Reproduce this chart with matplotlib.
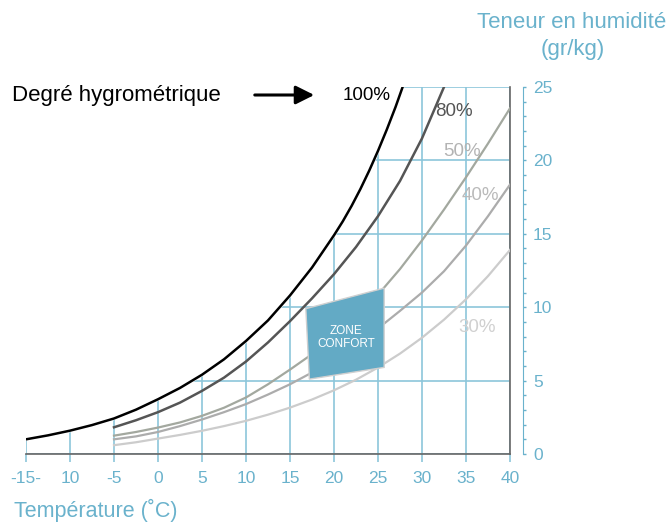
import matplotlib
matplotlib.use("Agg")
import matplotlib.pyplot as plt
from matplotlib.ticker import MultipleLocator

plt.rcParams['font.family'] = ['Liberation Sans', 'DejaVu Sans']

# temperature (C) and moisture content (g/kg)
T_sat = [-15, -12.5, -10, -7.5, -5, -2.5, 0, 2.5, 5, 7.5, 10, 12.5, 15, 17.5, 20,
         21, 22, 23, 24, 25, 26, 27, 27.8]
rh100 = [1.0, 1.27, 1.59, 1.97, 2.42, 3.02, 3.73, 4.5, 5.4, 6.45, 7.7, 9.1, 10.8, 12.7, 14.9,
         15.85, 16.9, 18.05, 19.3, 20.65, 22.1, 23.65, 25.0]

T_rh = [-5, -2.5, 0, 2.5, 5, 7.5, 10, 12.5, 15, 17.5, 20, 22.5, 25, 27.5, 30, 32.5, 35, 37.5, 40]
rh80 = [1.82, 2.3, 2.85, 3.5, 4.3, 5.2, 6.3, 7.6, 9.05, 10.6, 12.25, 14.1, 16.2, 18.6, 21.5, 25.0]
rh50 = [1.25, 1.5, 1.8, 2.15, 2.6, 3.15, 3.85, 4.75, 5.75, 6.8, 7.95, 9.3, 10.85, 12.6, 14.55, 16.65, 18.85, 21.15, 23.55]
rh40 = [1.0, 1.2, 1.5, 1.9, 2.35, 2.85, 3.4, 4.05, 4.75, 5.55, 6.45, 7.45, 8.55, 9.75, 11.0, 12.45, 14.2, 16.2, 18.35]
rh30 = [0.6, 0.8, 1.05, 1.3, 1.58, 1.9, 2.26, 2.68, 3.16, 3.71, 4.34, 5.06, 5.89, 6.84, 7.92, 9.15, 10.54, 12.12, 13.9]

zone_T = [16.8, 25.7, 25.7, 17.2]
zone_w = [9.9, 11.3, 5.9, 5.1]

x_ticks = [-15, -10, -5, 0, 5, 10, 15, 20, 25, 30, 35, 40]
x_labels = ['-15-', '10', '-5', '0', '5', '10', '15', '20', '25', '30', '35', '40']
y_ticks = [0, 5, 10, 15, 20, 25]

BLUE = '#6ab2cc'
GRID = '#8cc6da'

fig = plt.figure(figsize=(6.72, 5.22), dpi=100)
ax = fig.add_axes([26 / 672, 68 / 522, 484 / 672, 367 / 522])
ax.set_xlim(-15, 40)
ax.set_ylim(0, 25)

# grid, then blank the part above the saturation curve
ax.set_xticks(x_ticks)
ax.set_xticklabels(x_labels)
ax.set_yticks(y_ticks)
ax.grid(True, color=GRID, lw=1.2)
ax.set_axisbelow(True)
ax.get_xgridlines()[0].set_visible(False)
ax.vlines(x_ticks[0], 0, rh100[0], color=GRID, lw=1.2, zorder=0.5)
ax.fill_between(T_sat, rh100, 25, facecolor='white', edgecolor='white', lw=1.5, zorder=1.5)

ax.plot(T_sat, rh100, color='black', lw=1.8, zorder=3)
ax.plot(T_rh[:len(rh80)], rh80, color='#555555', lw=1.8, zorder=3)
ax.plot(T_rh, rh50, color='#a3a89f', lw=1.6, zorder=3)
ax.plot(T_rh, rh40, color='#acacac', lw=1.6, zorder=3)
ax.plot(T_rh, rh30, color='#cccccc', lw=1.6, zorder=3)

ax.fill(zone_T, zone_w, facecolor='#63aac5', edgecolor='#d0d0d0', lw=1, zorder=4)
ax.text(sum(zone_T) / 4, 7.95, 'ZONE\nCONFORT', color='white', fontsize=8.5,
        ha='center', va='center', linespacing=1.1, zorder=5)

ax.text(23.75, 24.45, '100%', color='black', fontsize=13.5, ha='center', va='center')
ax.text(33.6, 23.3, '80%', color='#555555', fontsize=13.5, ha='center', va='center')
ax.text(34.6, 20.6, '50%', color='#b3b3b3', fontsize=13.5, ha='center', va='center')
ax.text(36.65, 17.6, '40%', color='#bababa', fontsize=13.5, ha='center', va='center')
ax.text(36.3, 8.6, '30%', color='#d0d0d0', fontsize=13.5, ha='center', va='center')

for s in ['top', 'left']:
    ax.spines[s].set_visible(False)
for s in ['bottom', 'right']:
    ax.spines[s].set_color('#666666')
    ax.spines[s].set_linewidth(1.2)

# separate blue scale on the right
ax2 = ax.twinx()
ax2.set_ylim(0, 25)
ax2.set_yticks(y_ticks)
ax2.yaxis.set_minor_locator(MultipleLocator(1))
for s in ['top', 'left', 'bottom']:
    ax2.spines[s].set_visible(False)
ax2.spines['right'].set_position(('outward', 9))
ax2.spines['right'].set_color(BLUE)
ax2.tick_params(axis='y', which='both', colors=BLUE, length=2.5, width=1, labelsize=12.5, pad=5)

ax.tick_params(axis='x', colors=BLUE, length=6, width=1.2, labelsize=12.5, pad=6.5)
ax.tick_params(axis='x', color=GRID)
ax.tick_params(axis='y', left=False, right=False, labelleft=False, labelright=False)

fig.text(14 / 672, 1 - 510 / 522, 'Température (˚C)', color=BLUE, fontsize=15.5, ha='left', va='center')
fig.text(666 / 672, 1 - 22 / 522, 'Teneur en humidité', color=BLUE, fontsize=16, ha='right', va='center')
fig.text(573 / 672, 1 - 50 / 522, '(gr/kg)', color=BLUE, fontsize=16, ha='center', va='center')
fig.text(12 / 672, 1 - 95 / 522, 'Degré hygrométrique', color='black', fontsize=16, ha='left', va='center')
fig.patches.append(matplotlib.patches.FancyArrowPatch(
    (252 / 672, 1 - 95 / 522), (317 / 672, 1 - 95 / 522), transform=fig.transFigure,
    arrowstyle='-|>', mutation_scale=28, lw=2.2, color='black'))

fig.savefig('out.png', dpi=100)
